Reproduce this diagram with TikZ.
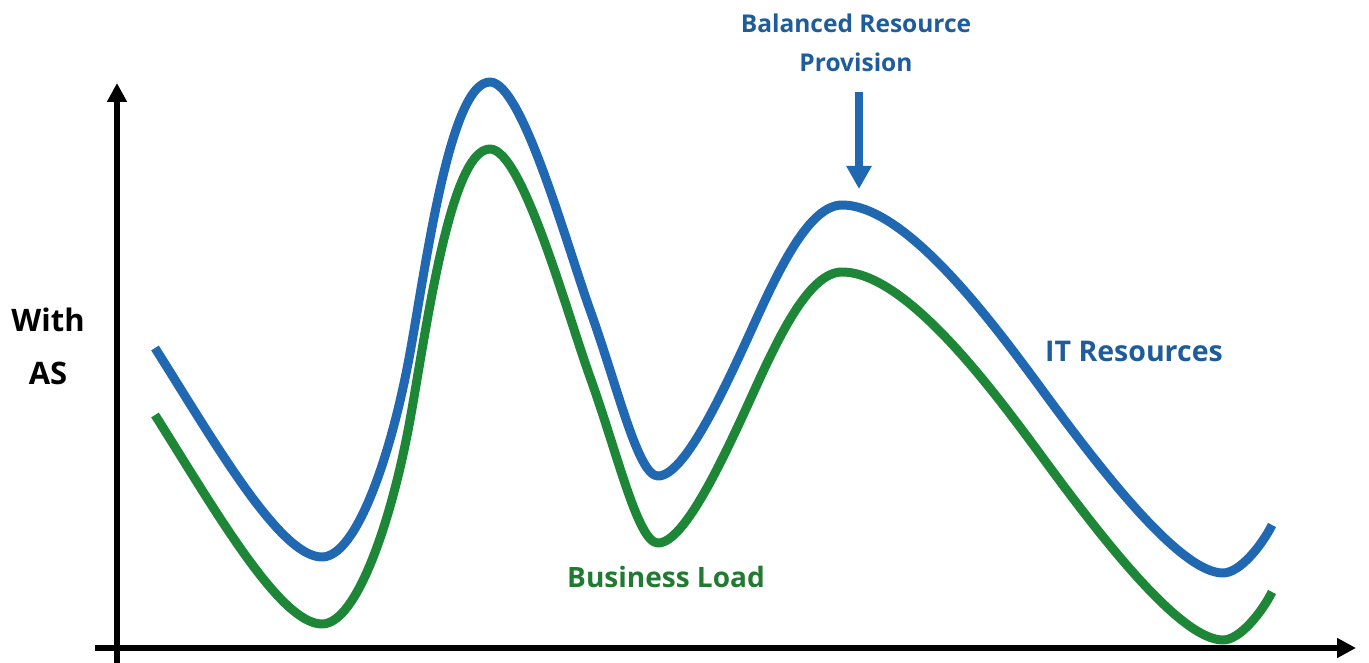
\documentclass[tikz,border=0pt]{standalone}
\usepackage{fontspec}
\setmainfont{Open Sans}
\usetikzlibrary{arrows.meta}
\definecolor{curveblue}{RGB}{33,104,178}
\definecolor{curvegreen}{RGB}{30,135,55}
\definecolor{textblue}{RGB}{31,92,155}
\definecolor{textgreen}{RGB}{33,122,50}
\tikzset{
  axis/.style={line width=6pt, -{Triangle[length=19pt,width=19pt]}},
  curve/.style={line width=9pt, line cap=butt, line join=round},
  lbl/.style={inner sep=0pt, align=center},
  pointer/.style={line width=8pt, curveblue, -{Triangle[length=23pt,width=24pt]}}
}
\newcommand{\wavepath}{(155,348) .. controls (215,443) and (280,557) .. (322,557)
  .. controls (357,557) and (392,452) .. (410,353)
  .. controls (426,265) and (450,82) .. (490,82)
  .. controls (522,82) and (566,243) .. (590,310)
  .. controls (618,388) and (638,476) .. (658,476)
  .. controls (685,476) and (725,388) .. (755,322)
  .. controls (780,267) and (810,205) .. (842,205)
  .. controls (905,205) and (990,319) .. (1040,387)
  .. controls (1100,469) and (1180,573) .. (1223,573)
  .. controls (1240,573) and (1262,545) .. (1272,525)}
\begin{document}
\begin{tikzpicture}[x=1pt,y=-1pt]
\useasboundingbox (0,0) rectangle (1369,663);
\fill[white] (0,0) rectangle (1369,663);
% axes
\coordinate (xs) at (95,648);
\coordinate (xe) at (1356,648);
\coordinate (ys) at (117,663);
\coordinate (ye) at (117,83);
\draw[axis] (ys) -- (ye);
\draw[axis] (xs) -- (xe);
% curves
\begin{scope}[shift={(0,67)}]
\draw[curve, curvegreen] \wavepath;
\end{scope}
\draw[curve, curveblue] \wavepath;
% labels
\node[lbl, textblue, font=\fontsize{24.5}{39}\selectfont\bfseries] (bal) at (856,43) {Balanced Resource\\Provision};
\coordinate (ptop) at (859,92);
\coordinate (pbot) at (859,189);
\draw[pointer] (ptop) -- (pbot);
\node[lbl, black, font=\fontsize{31}{53}\selectfont\bfseries] (with) at (48,346) {With\\AS};
\node[lbl, textblue, font=\fontsize{28.5}{34}\selectfont\bfseries] (itr) at (1134,351) {IT Resources};
\node[lbl, textgreen, font=\fontsize{28}{34}\selectfont\bfseries] (bl) at (666,577) {Business Load};
\end{tikzpicture}
\end{document}
